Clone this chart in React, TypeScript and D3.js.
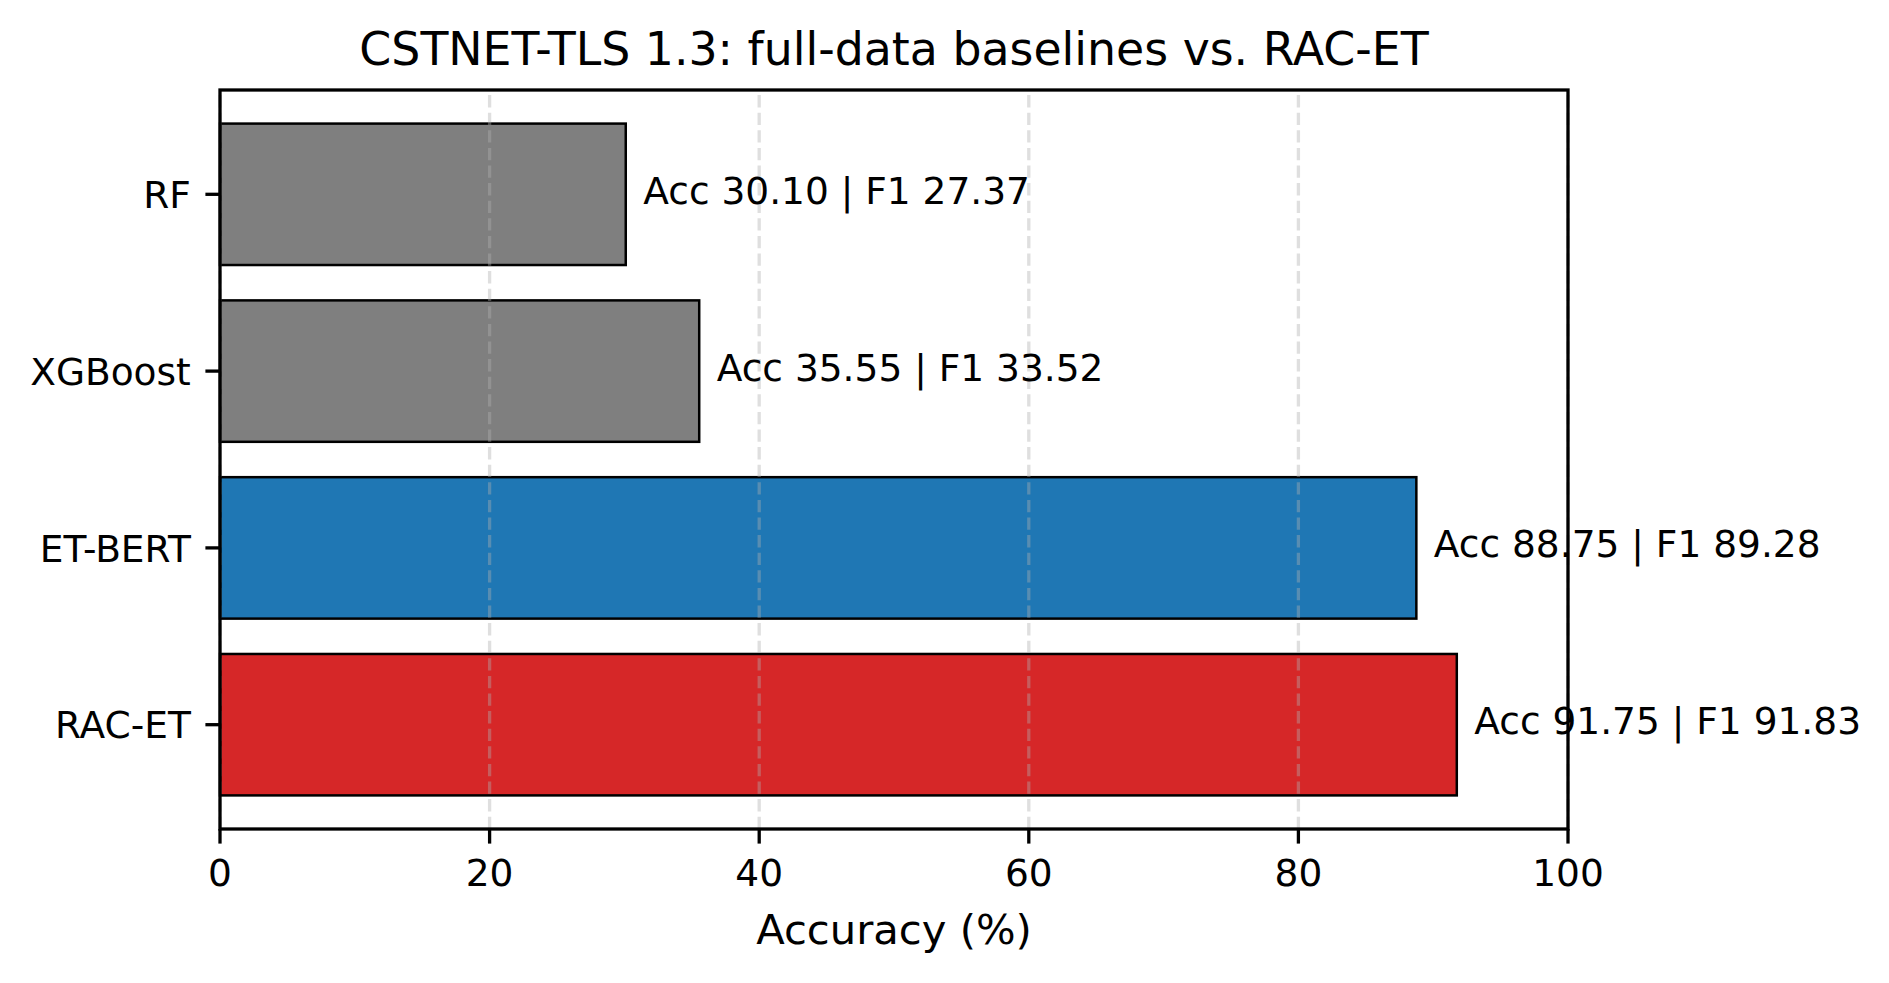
import React, { useEffect, useRef } from 'react';
import * as d3 from 'd3';

const models = ['RF', 'XGBoost', 'ET-BERT', 'RAC-ET'];
const accuracy = [30.10, 35.55, 88.75, 91.75];
const f1 = [27.37, 33.52, 89.28, 91.83];
const barColors = ['#7f7f7f', '#7f7f7f', '#1f77b4', '#d62728'];
const xTicks = [0, 20, 40, 60, 80, 100];

const W = 1889;
const H = 983;
const FONT = '"DejaVu Sans", sans-serif';

const App: React.FC = () => {
  const svgRef = useRef<SVGSVGElement>(null);

  useEffect(() => {
    if (!svgRef.current) return;
    const svg = d3.select(svgRef.current);
    svg.selectAll('*').remove();

    const margin = { top: 90, right: W - 1568, bottom: H - 829, left: 220 };
    const x0 = margin.left;
    const x1 = W - margin.right;
    const y0 = margin.top;
    const y1 = H - margin.bottom;

    const xScale = d3.scaleLinear().domain([0, 100]).range([x0, x1]);
    // matplotlib barh default: 0.05 margins around [-0.4, n-0.6]
    const n = models.length;
    const pad = (n - 1 + 0.8) * 0.05;
    const yScale = d3.scaleLinear().domain([-0.4 - pad, n - 0.6 + pad]).range([y0, y1]);
    const barH = yScale(0.8) - yScale(0);

    const tickFs = 37.5;
    const lw = 3.3;

    svg.append('rect')
      .attr('width', W).attr('height', H).attr('fill', '#fff');

    // Bars
    svg.append('g')
      .selectAll('rect')
      .data(models)
      .enter()
      .append('rect')
      .attr('x', xScale(0))
      .attr('y', (d, i) => yScale(i) - barH / 2)
      .attr('width', (d, i) => xScale(accuracy[i]) - xScale(0))
      .attr('height', barH)
      .attr('fill', (d, i) => barColors[i])
      .attr('stroke', '#000')
      .attr('stroke-width', 2.5);

    // Grid (drawn above bars, like matplotlib); dashes start at the bottom
    svg.append('g')
      .selectAll('line')
      .data(xTicks)
      .enter()
      .append('line')
      .attr('x1', d => xScale(d)).attr('x2', d => xScale(d))
      .attr('y1', y1).attr('y2', y0)
      .attr('stroke', '#b0b0b0')
      .attr('stroke-opacity', 0.4)
      .attr('stroke-width', lw)
      .attr('stroke-dasharray', '12.3,5.3');

    // Value labels
    svg.append('g')
      .selectAll('text')
      .data(models)
      .enter()
      .append('text')
      .attr('x', (d, i) => xScale(accuracy[i] + 1.3))
      .attr('y', (d, i) => yScale(i) + 9.5)
      .attr('font-family', FONT)
      .attr('font-size', tickFs)
      .attr('fill', '#000')
      .text((d, i) => `Acc ${accuracy[i].toFixed(2)} | F1 ${f1[i].toFixed(2)}`);

    // Spines
    svg.append('rect')
      .attr('x', x0).attr('y', y0)
      .attr('width', x1 - x0).attr('height', y1 - y0)
      .attr('fill', 'none')
      .attr('stroke', '#000')
      .attr('stroke-width', lw);

    // X axis ticks
    const tickLen = 14.6;
    const xt = svg.append('g');
    xTicks.forEach(t => {
      xt.append('line')
        .attr('x1', xScale(t)).attr('x2', xScale(t))
        .attr('y1', y1).attr('y2', y1 + tickLen)
        .attr('stroke', '#000').attr('stroke-width', lw);
      xt.append('text')
        .attr('x', xScale(t))
        .attr('y', y1 + tickLen + 14.6 + 0.729 * tickFs)
        .attr('text-anchor', 'middle')
        .attr('font-family', FONT)
        .attr('font-size', tickFs)
        .text(String(t));
    });

    // Y axis ticks
    const yt = svg.append('g');
    models.forEach((m, i) => {
      yt.append('line')
        .attr('x1', x0 - tickLen).attr('x2', x0)
        .attr('y1', yScale(i)).attr('y2', yScale(i))
        .attr('stroke', '#000').attr('stroke-width', lw);
      yt.append('text')
        .attr('x', x0 - tickLen - 14.6)
        .attr('y', yScale(i) + 0.3645 * tickFs)
        .attr('text-anchor', 'end')
        .attr('font-family', FONT)
        .attr('font-size', tickFs)
        .text(m);
    });

    // X label
    svg.append('text')
      .attr('x', (x0 + x1) / 2)
      .attr('y', 944)
      .attr('text-anchor', 'middle')
      .attr('font-family', FONT)
      .attr('font-size', 41.7)
      .text('Accuracy (%)');

    // Title
    svg.append('text')
      .attr('x', (x0 + x1) / 2)
      .attr('y', 65)
      .attr('text-anchor', 'middle')
      .attr('font-family', FONT)
      .attr('font-size', 45.8)
      .text('CSTNET-TLS 1.3: full-data baselines vs. RAC-ET');
  }, []);

  return (
    <div style={{ position: 'absolute', left: 0, top: 0 }}>
      <svg ref={svgRef} width={W} height={H} style={{ display: 'block' }}></svg>
    </div>
  );
};

export default App;
